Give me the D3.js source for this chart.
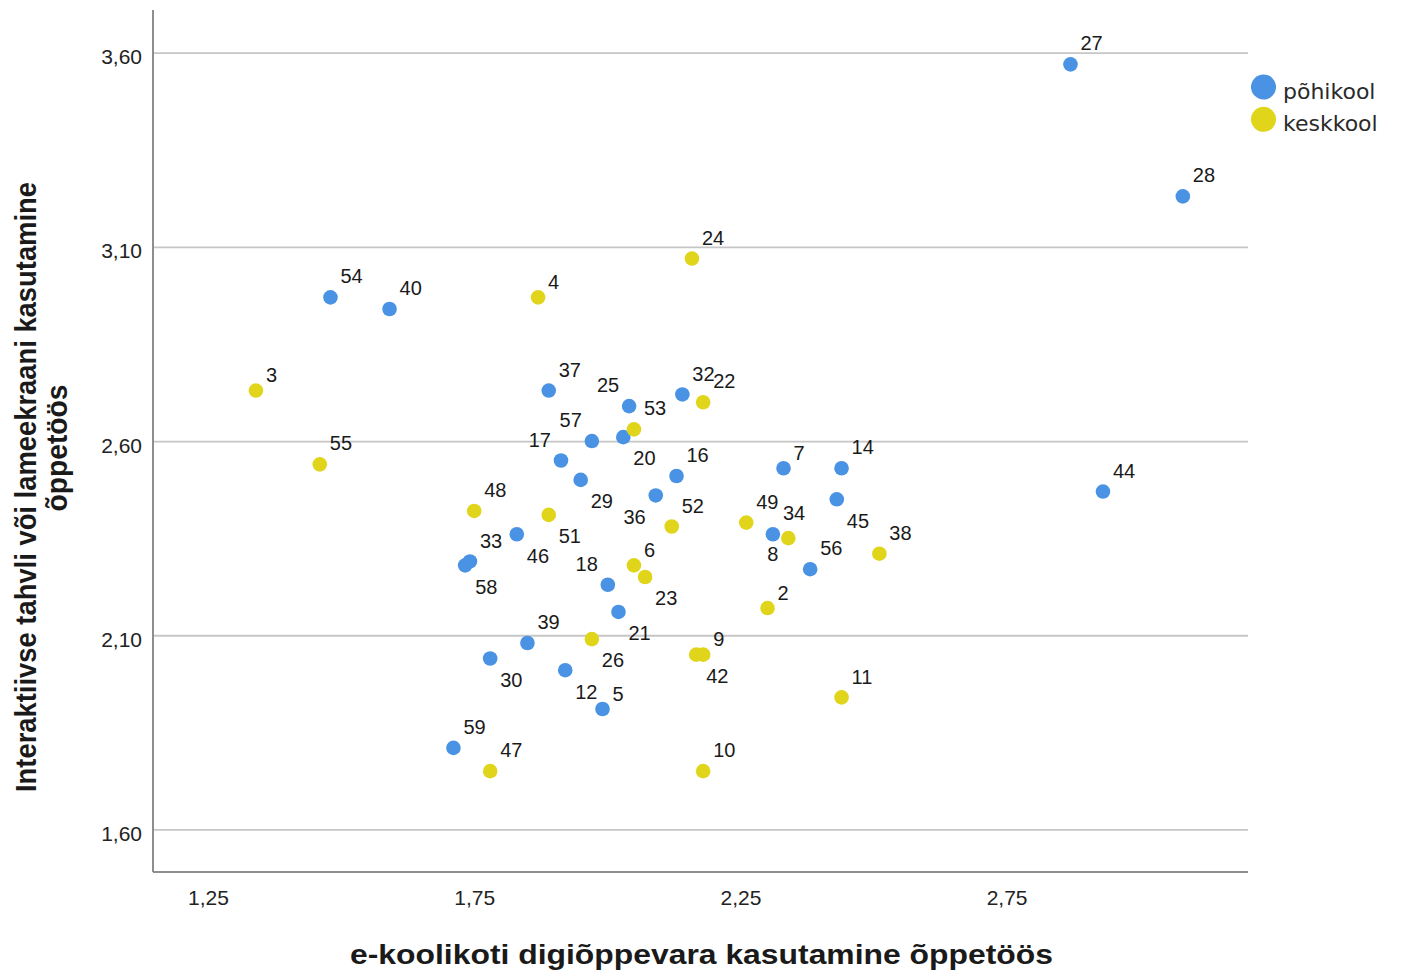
<!DOCTYPE html>
<html>
<head>
<meta charset="utf-8">
<script src="https://cdn.jsdelivr.net/npm/d3@7"></script>
<style>
  html, body { margin: 0; padding: 0; background: #ffffff; }
  svg { display: block; }
</style>
</head>
<body>
<svg id="chart" width="1401" height="972"></svg>
<script>
// ---- Data ----
const ids    = [2, 3, 4, 5, 6, 7, 8, 9, 10, 11, 12, 14, 16, 17, 18, 20, 21, 22, 23, 24, 25, 26, 27, 28, 29, 30, 32, 33, 34, 36, 37, 38, 39, 40, 42, 44, 45, 46, 47, 48, 49, 51, 52, 53, 54, 55, 56, 57, 58, 59];
const xVals  = [2.301, 1.340, 1.870, 1.991, 2.050, 2.331, 2.340, 2.180, 2.180, 2.440, 1.921, 2.440, 2.130, 1.913, 2.001, 2.030, 2.021, 2.180, 2.071, 2.159, 2.041, 1.971, 2.870, 3.081, 1.950, 1.780, 2.141, 1.742, 2.311, 2.091, 1.890, 2.511, 1.850, 1.591, 2.167, 2.931, 2.431, 1.830, 1.780, 1.750, 2.261, 1.890, 2.121, 2.050, 1.480, 1.460, 2.381, 1.971, 1.733, 1.711];
const yVals  = [2.17, 2.73, 2.97, 1.91, 2.28, 2.53, 2.35, 2.05, 1.75, 1.94, 2.01, 2.53, 2.51, 2.55, 2.23, 2.61, 2.16, 2.70, 2.25, 3.07, 2.69, 2.09, 3.57, 3.23, 2.50, 2.04, 2.72, 2.29, 2.36, 2.46, 2.73, 2.31, 2.08, 2.94, 2.05, 2.47, 2.45, 2.36, 1.75, 2.42, 2.39, 2.41, 2.38, 2.63, 2.97, 2.54, 2.27, 2.60, 2.28, 1.81];
const groups = ["k","k","k","p","k","p","k","k","k","k","p","p","p","p","p","p","p","k","k","k","p","k","p","p","p","p","p","p","p","p","p","k","p","p","k","p","p","p","k","k","k","k","k","k","p","k","p","p","p","p"];
// label side relative to point: ur = up-right, ul = up-left, br = below-right, bl = below-left
const labelSides = ["ur","ur","ur","ur","ur","ur","bl","ur","ur","ur","br","ur","ur","ul","ul","br","br","ur","br","ur","ul","br","ur","ur","br","br","ur","ur","ur","bl","ur","ur","ur","ur","br","ur","br","br","ur","ur","ur","br","ur","ur","ur","ur","ur","ul","br","ur"];

const groupKeys   = ["p", "k"];
const groupNames  = ["põhikool", "keskkool"];
const xTicks      = [1.25, 1.75, 2.25, 2.75];
const yTicks      = [1.60, 2.10, 2.60, 3.10, 3.60];
const xTitle      = "e-koolikoti digiõppevara kasutamine õppetöös";
const yTitleLines = ["Interaktiivse tahvli või lameekraani kasutamine", "õppetöös"];

// ---- Layout ----
const svg = d3.select("#chart");
const plot = { left: 153, right: 1248, top: 10, bottom: 872 };
const color = d3.scaleOrdinal().domain(groupKeys).range(["#4a92e3", "#e1d51c"]);
const x = d3.scaleLinear().domain([1.1467, 3.2034]).range([plot.left, plot.right]);
const y = d3.scaleLinear().domain([1.4903, 3.7100]).range([plot.bottom, plot.top]);
const fmt = v => d3.format(".2f")(v).replace(".", ",");
const FONT = "'Liberation Sans', Arial, sans-serif";

// gridlines (horizontal) via axis
const gridAxis = d3.axisLeft(y).tickValues(yTicks).tickSize(-(plot.right - plot.left)).tickFormat("");
svg.append("g")
  .attr("transform", `translate(${plot.left},0)`)
  .call(gridAxis)
  .call(g => g.select(".domain").remove())
  .call(g => g.selectAll("line").attr("stroke", "#c6c6c6").attr("stroke-width", 1.8));

// y tick labels
const yAxis = d3.axisLeft(y).tickValues(yTicks).tickSize(0).tickPadding(11).tickFormat(fmt);
svg.append("g")
  .attr("transform", `translate(${plot.left},0)`)
  .call(yAxis)
  .call(g => g.select(".domain").remove())
  .call(g => g.selectAll("text")
      .attr("font-family", FONT).attr("font-size", 21).attr("fill", "#222")
      .attr("dy", null).attr("y", 11));

// x tick labels
const xAxis = d3.axisBottom(x).tickValues(xTicks).tickSize(0).tickPadding(0).tickFormat(fmt);
svg.append("g")
  .attr("transform", `translate(0,${plot.bottom})`)
  .call(xAxis)
  .call(g => g.select(".domain").remove())
  .call(g => g.selectAll("text")
      .attr("font-family", FONT).attr("font-size", 21).attr("fill", "#222")
      .attr("dy", null).attr("y", 33));

// axis lines
svg.append("line").attr("x1", plot.left).attr("x2", plot.left).attr("y1", plot.top).attr("y2", plot.bottom)
  .attr("stroke", "#8e8e8e").attr("stroke-width", 2);
svg.append("line").attr("x1", plot.left).attr("x2", plot.right).attr("y1", plot.bottom).attr("y2", plot.bottom)
  .attr("stroke", "#8e8e8e").attr("stroke-width", 2);

// points
const pts = ids.map((id, i) => ({ id, x: xVals[i], y: yVals[i], g: groups[i], side: labelSides[i] }));
svg.append("g").selectAll("circle").data(pts).join("circle")
  .attr("cx", d => x(d.x)).attr("cy", d => y(d.y)).attr("r", 7.3)
  .attr("fill", d => color(d.g));

// point labels
const lblG = svg.append("g");
pts.forEach(d => {
  const t = lblG.append("text").text(d.id)
    .attr("font-family", FONT).attr("font-size", 20).attr("fill", "#1a1a1a")
    .attr("text-anchor", "middle");
  const w = t.node().getComputedTextLength();
  const off = 10 + w / 2;
  const sx = d.side.includes("r") ? 1 : -1;
  const sy = d.side.includes("u") ? -1 : 1;
  const cx = x(d.x) + sx * off, cy = y(d.y) + sy * off;
  t.attr("x", cx).attr("y", cy + 7.2);
});

// axis titles
svg.append("text").text(xTitle)
  .attr("x", (plot.left + plot.right) / 2 + 1).attr("y", 964)
  .attr("text-anchor", "middle").attr("font-family", FONT).attr("font-weight", "bold")
  .attr("font-size", 28).attr("fill", "#1a1a1a")
  .attr("textLength", 703).attr("lengthAdjust", "spacingAndGlyphs");

const yTitlePos = [{ c: 487, b: 36, len: 610 }, { c: 448, b: 67, len: 127 }];
yTitleLines.forEach((line, i) => {
  svg.append("text").text(line)
    .attr("transform", `translate(${yTitlePos[i].b},${yTitlePos[i].c}) rotate(-90)`)
    .attr("text-anchor", "middle").attr("font-family", FONT).attr("font-weight", "bold")
    .attr("font-size", 29).attr("fill", "#1a1a1a")
    .attr("textLength", yTitlePos[i].len).attr("lengthAdjust", "spacingAndGlyphs");
});

// legend
const leg = svg.append("g");
groupKeys.forEach((k, i) => {
  const cy = 87 + i * 32.3;
  leg.append("circle").attr("cx", 1263.5).attr("cy", cy).attr("r", 12.5).attr("fill", color(k));
  leg.append("text").text(groupNames[i])
    .attr("x", 1283).attr("y", cy + 11.5)
    .attr("font-family", "'DejaVu Sans', Verdana, sans-serif").attr("font-size", 22).attr("fill", "#2a2a2a");
});
</script>
</body>
</html>
